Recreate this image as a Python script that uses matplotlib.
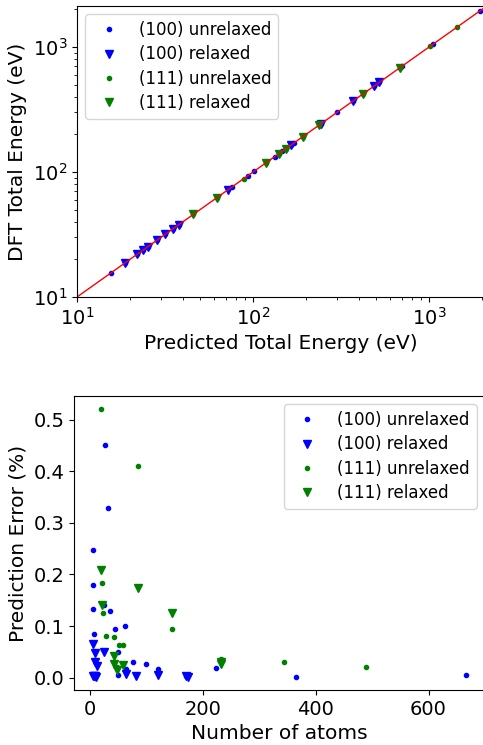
import numpy as np
import matplotlib
matplotlib.use('Agg')
import matplotlib.pyplot as plt

plt.rcParams['font.size'] = 14
plt.rcParams['axes.labelsize'] = 14.5
plt.rcParams['legend.fontsize'] = 12
plt.rcParams['legend.labelspacing'] = 0.38

# Top panel: predicted vs DFT total energy (eV)
pred_100_unrel = [15.5, 18.7, 22.0, 23.8, 25.2, 28.6, 31.8, 35.0, 37.8, 72.4, 76.3, 93.3,
                  101.7, 133, 146, 165, 171, 243, 300, 370, 487, 522, 700, 1057, 1958]
dft_100_unrel = [15.5, 18.7, 22.0, 23.8, 25.3, 28.6, 31.8, 35.0, 37.8, 72.5, 76.2, 93.4,
                 101.6, 133, 146, 165, 171, 243, 300, 370, 487, 522, 700, 1057, 1958]
pred_100_rel = [18.7, 21.9, 23.8, 25.2, 28.6, 31.8, 35.0, 37.8, 72.4, 165, 243, 370, 487, 522]
dft_100_rel = [18.7, 21.9, 23.8, 25.2, 28.6, 31.8, 35.0, 37.8, 72.4, 165, 243, 370, 487, 522]
pred_111_unrel = [45.8, 62.2, 88.5, 118, 140, 154, 192, 237, 420, 681, 1019, 1449]
dft_111_unrel = [45.9, 62.3, 88.6, 118, 140, 154, 192, 237, 420, 681, 1019, 1450]
pred_111_rel = [45.8, 62.2, 118, 140, 154, 192, 237, 420, 681]
dft_111_rel = [45.8, 62.2, 118, 140, 154, 192, 237, 420, 681]
energy_lims = [10, 2080]

# Bottom panel: prediction error (%) vs number of atoms
atoms_100_unrel = [26, 33, 5, 6, 6, 25, 35, 7, 44, 63, 49, 76, 99, 121, 64, 49, 224, 365, 667, 170, 8]
err_100_unrel = [0.451, 0.328, 0.248, 0.179, 0.133, 0.141, 0.130, 0.085, 0.095, 0.100, 0.049,
                 0.030, 0.026, 0.016, 0.016, 0.006, 0.019, 0.002, 0.005, 0.004, 0.004]
atoms_100_rel = [6, 9, 25, 9, 12, 7, 9, 11, 5, 64, 81, 121, 170, 174]
err_100_rel = [0.065, 0.047, 0.049, 0.031, 0.023, 0.003, 0.003, 0.002, 0.004, 0.007, 0.003,
               0.005, 0.003, 0.002]
atoms_111_unrel = [19, 85, 21, 24, 28, 43, 52, 59, 146, 232, 344, 490, 48]
err_111_unrel = [0.520, 0.410, 0.184, 0.125, 0.080, 0.078, 0.063, 0.064, 0.095, 0.036, 0.030,
                 0.021, 0.020]
atoms_111_rel = [19, 85, 21, 146, 43, 43, 59, 48, 232, 233]
err_111_rel = [0.209, 0.174, 0.141, 0.126, 0.042, 0.027, 0.025, 0.015, 0.030, 0.027]

labels = ['(100) unrelaxed', '(100) relaxed', '(111) unrelaxed', '(111) relaxed']
styles = ['b.', 'bv', 'g.', 'gv']

W, H = 483, 745
fig = plt.figure(figsize=(W / 100, H / 100), dpi=100)

# top: parity plot
ax1 = fig.add_axes([77 / W, 1 - 297 / H, (485 - 77) / W, (297 - 6) / H])
top_sets = [(pred_100_unrel, dft_100_unrel), (pred_100_rel, dft_100_rel),
            (pred_111_unrel, dft_111_unrel), (pred_111_rel, dft_111_rel)]
for (xs, ys), st, lab in zip(top_sets, styles, labels):
    ax1.plot(xs, ys, st, label=lab)
ax1.plot(energy_lims, energy_lims, 'r-', lw=1)
ax1.set_xscale('log')
ax1.set_yscale('log')
ax1.set_xlim(energy_lims[0], energy_lims[1])
ax1.set_ylim(10, 2130)
ax1.set_xlabel('Predicted Total Energy (eV)')
ax1.set_ylabel('DFT Total Energy (eV)')
ax1.legend(loc='upper left')

# bottom: error vs size
ax2 = fig.add_axes([74 / W, 1 - 690 / H, (485 - 74) / W, (690 - 396) / H])
bot_sets = [(atoms_100_unrel, err_100_unrel), (atoms_100_rel, err_100_rel),
            (atoms_111_unrel, err_111_unrel), (atoms_111_rel, err_111_rel)]
for (xs, ys), st, lab in zip(bot_sets, styles, labels):
    ax2.plot(xs, ys, st, label=lab)
ax2.set_xlabel('Number of atoms')
ax2.set_ylabel('Prediction Error (%)')
ax2.legend(loc='upper right')

fig.savefig('out.png', dpi=100)
